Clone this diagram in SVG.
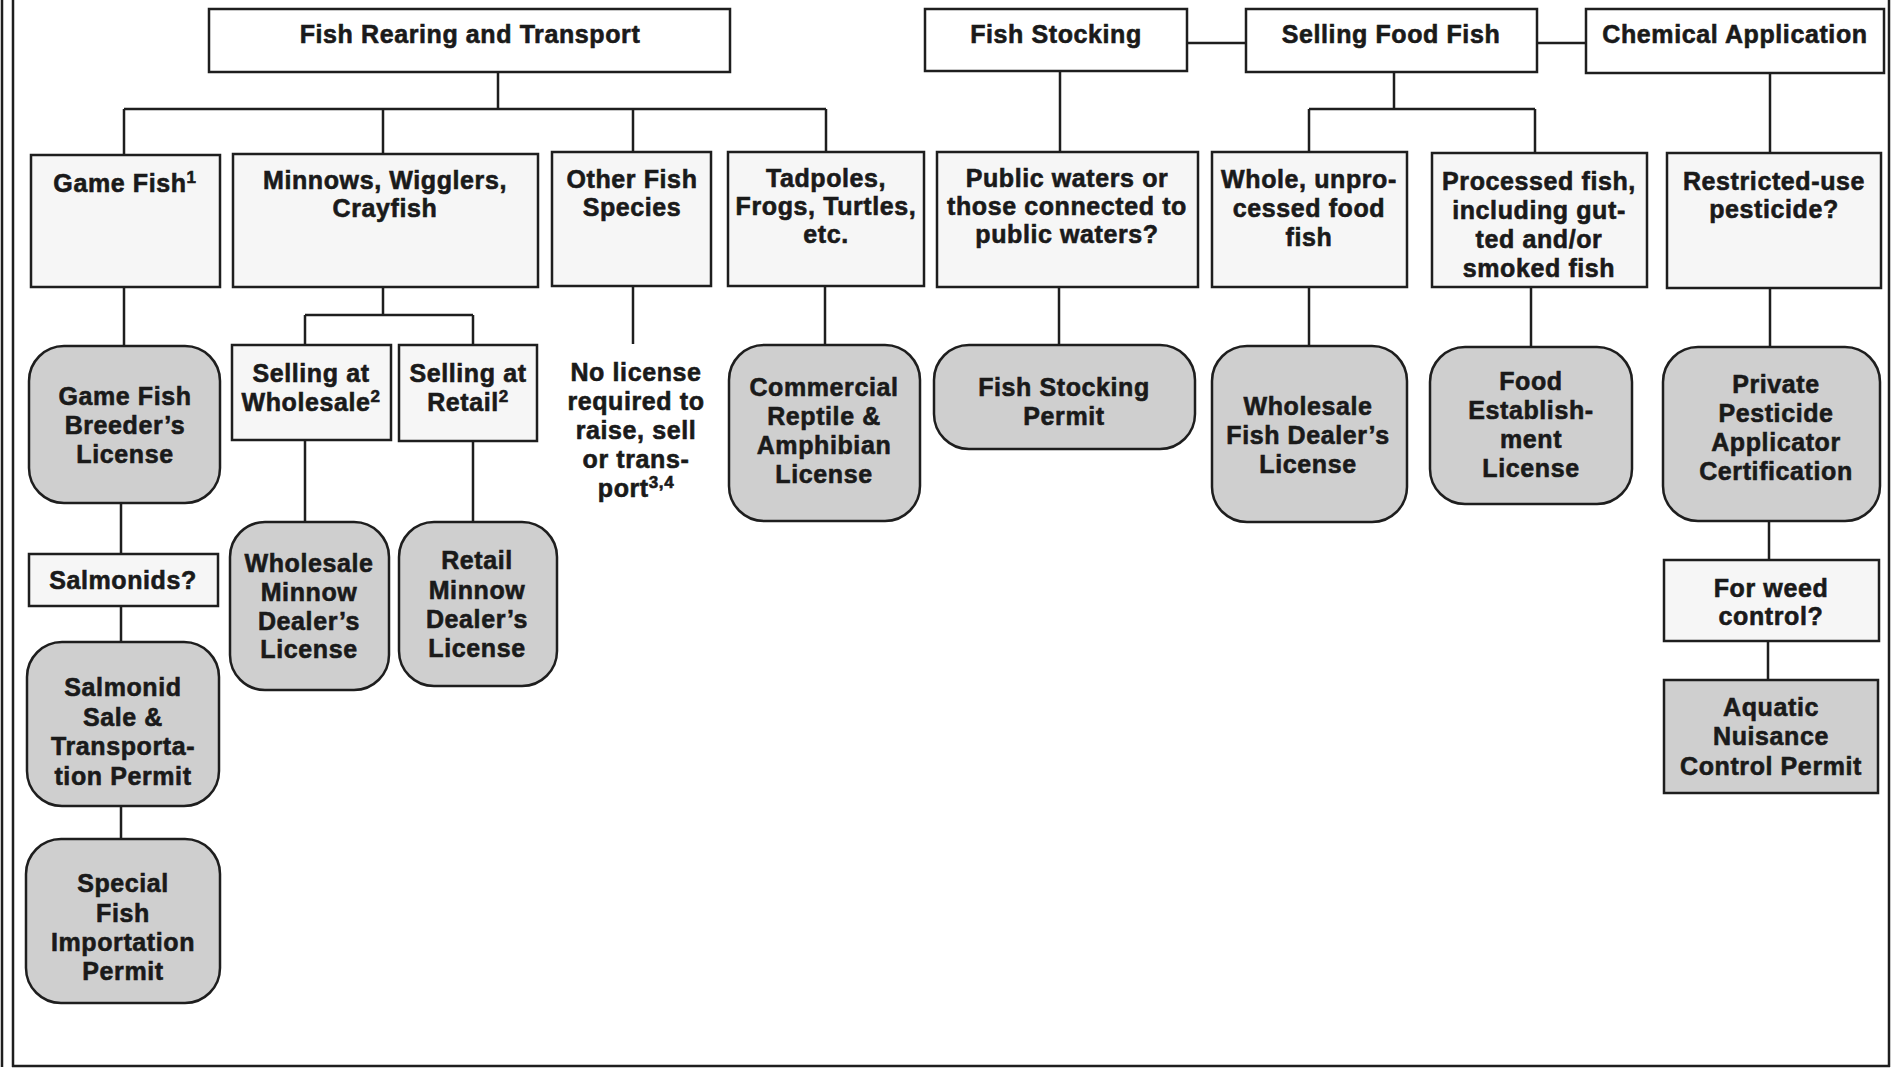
<svg xmlns="http://www.w3.org/2000/svg" width="1903" height="1069" viewBox="0 0 1903 1069">
<style>
  .hdr { fill: #ffffff; stroke: #1e1e1e; stroke-width: 2.5; }
  .q { fill: #f6f6f6; stroke: #1e1e1e; stroke-width: 2.5; }
  .lic { fill: #cfcfcf; stroke: #1e1e1e; stroke-width: 2.5; }
  .conn { fill: none; stroke: #1e1e1e; stroke-width: 2.5; }
  .frame { fill: none; stroke: #1e1e1e; stroke-width: 2.5; }
  text { font-family: "Liberation Sans", Arial, Helvetica, sans-serif; font-weight: bold; font-size: 25px; letter-spacing: 0.6px; fill: #1a1a1a; stroke: #1a1a1a; stroke-width: 0.6; text-anchor: middle; }
  .sup { font-size: 17px; }
</style>
<rect x="0" y="0" width="1903" height="1069" fill="#ffffff"/>
<g id="frame">
  <line class="frame" x1="2" y1="0" x2="2" y2="1067" stroke-width="1.2"/>
  <line class="frame" x1="13" y1="0" x2="13" y2="1067"/>
  <line class="frame" x1="1889" y1="0" x2="1889" y2="1067"/>
  <line class="frame" x1="12" y1="1066" x2="1890" y2="1066"/>
</g>
<g id="connectors">
  <path class="conn" d="M498 72 V109 M124 109 H826 M124 109 V155 M383 109 V154 M633 109 V152 M826 109 V152"/>
  <path class="conn" d="M1187 43 H1246 M1537 43 H1586"/>
  <path class="conn" d="M1060 71 V152"/>
  <path class="conn" d="M1394 72 V109 M1309 109 H1535 M1309 109 V152 M1535 109 V153"/>
  <path class="conn" d="M1770 73 V153"/>
  <path class="conn" d="M124 287 V346 M121 503 V554 M121 606 V642 M121 806 V839"/>
  <path class="conn" d="M383 287 V315 M305 315 H473 M305 315 V345 M473 315 V345 M305 440 V522 M473 441 V522"/>
  <path class="conn" d="M633 286 V344"/>
  <path class="conn" d="M825 286 V345"/>
  <path class="conn" d="M1059 287 V345"/>
  <path class="conn" d="M1309 287 V346"/>
  <path class="conn" d="M1531 287 V347"/>
  <path class="conn" d="M1770 288 V347 M1769 521 V560 M1768 641 V680"/>
</g>
<g id="hdr-rearing">
  <rect class="hdr" x="209" y="9" width="521" height="63"/>
  <text x="470" y="43">Fish Rearing and Transport</text>
</g>
<g id="hdr-stocking">
  <rect class="hdr" x="925" y="9" width="262" height="62"/>
  <text x="1056" y="43">Fish Stocking</text>
</g>
<g id="hdr-selling">
  <rect class="hdr" x="1246" y="9" width="291" height="63"/>
  <text x="1391" y="43">Selling Food Fish</text>
</g>
<g id="hdr-chemical">
  <rect class="hdr" x="1586" y="9" width="298" height="64"/>
  <text x="1735" y="43">Chemical Application</text>
</g>
<g id="game-fish">
  <rect class="q" x="31" y="155" width="189" height="132"/>
  <text x="125" y="192">Game Fish<tspan class="sup" dy="-9">1</tspan></text>
</g>
<g id="minnows">
  <rect class="q" x="233" y="154" width="305" height="133"/>
  <text x="385" y="189">Minnows, Wigglers,</text>
  <text x="385" y="217">Crayfish</text>
</g>
<g id="other-fish">
  <rect class="q" x="552" y="152" width="159" height="134"/>
  <text x="632" y="188">Other Fish</text>
  <text x="632" y="216">Species</text>
</g>
<g id="tadpoles">
  <rect class="q" x="728" y="152" width="196" height="134"/>
  <text x="826" y="187">Tadpoles,</text>
  <text x="826" y="215">Frogs, Turtles,</text>
  <text x="826" y="243">etc.</text>
</g>
<g id="public-waters">
  <rect class="q" x="937" y="152" width="261" height="135"/>
  <text x="1067" y="187">Public waters or</text>
  <text x="1067" y="215">those connected to</text>
  <text x="1067" y="243">public waters?</text>
</g>
<g id="whole-fish">
  <rect class="q" x="1212" y="152" width="195" height="135"/>
  <text x="1309" y="188">Whole, unpro-</text>
  <text x="1309" y="217">cessed food</text>
  <text x="1309" y="246">fish</text>
</g>
<g id="processed-fish">
  <rect class="q" x="1432" y="153" width="215" height="134"/>
  <text x="1539" y="190">Processed fish,</text>
  <text x="1539" y="219">including gut-</text>
  <text x="1539" y="248">ted and/or</text>
  <text x="1539" y="277">smoked fish</text>
</g>
<g id="restricted">
  <rect class="q" x="1667" y="153" width="214" height="135"/>
  <text x="1774" y="190">Restricted-use</text>
  <text x="1774" y="218">pesticide?</text>
</g>
<g id="breeder-license">
  <rect class="lic" x="29" y="346" width="191" height="157" rx="35" ry="35"/>
  <text x="125" y="405">Game Fish</text>
  <text x="125" y="434">Breeder’s</text>
  <text x="125" y="463">License</text>
</g>
<g id="salmonids">
  <rect class="q" x="29" y="554" width="189" height="52"/>
  <text x="123" y="589">Salmonids?</text>
</g>
<g id="salmonid-permit">
  <rect class="lic" x="27" y="642" width="192" height="164" rx="35" ry="35"/>
  <text x="123" y="696">Salmonid</text>
  <text x="123" y="726">Sale &amp;</text>
  <text x="123" y="755">Transporta-</text>
  <text x="123" y="785">tion Permit</text>
</g>
<g id="special-permit">
  <rect class="lic" x="26" y="839" width="194" height="164" rx="35" ry="35"/>
  <text x="123" y="892">Special</text>
  <text x="123" y="922">Fish</text>
  <text x="123" y="951">Importation</text>
  <text x="123" y="980">Permit</text>
</g>
<g id="sell-wholesale">
  <rect class="q" x="232" y="345" width="159" height="95"/>
  <text x="311" y="382">Selling at</text>
  <text x="311" y="411">Wholesale<tspan class="sup" dy="-9">2</tspan></text>
</g>
<g id="sell-retail">
  <rect class="q" x="399" y="345" width="138" height="96"/>
  <text x="468" y="382">Selling at</text>
  <text x="468" y="411">Retail<tspan class="sup" dy="-9">2</tspan></text>
</g>
<g id="wholesale-minnow">
  <rect class="lic" x="230" y="522" width="159" height="168" rx="35" ry="35"/>
  <text x="309" y="572">Wholesale</text>
  <text x="309" y="601">Minnow</text>
  <text x="309" y="630">Dealer’s</text>
  <text x="309" y="658">License</text>
</g>
<g id="retail-minnow">
  <rect class="lic" x="399" y="522" width="158" height="164" rx="35" ry="35"/>
  <text x="477" y="569">Retail</text>
  <text x="477" y="599">Minnow</text>
  <text x="477" y="628">Dealer’s</text>
  <text x="477" y="657">License</text>
</g>
<g id="no-license">
  <text x="636" y="381">No license</text>
  <text x="636" y="410">required to</text>
  <text x="636" y="439">raise, sell</text>
  <text x="636" y="468">or trans-</text>
  <text x="636" y="497">port<tspan class="sup" dy="-9">3,4</tspan></text>
</g>
<g id="reptile-license">
  <rect class="lic" x="729" y="345" width="191" height="176" rx="35" ry="35"/>
  <text x="824" y="396">Commercial</text>
  <text x="824" y="425">Reptile &amp;</text>
  <text x="824" y="454">Amphibian</text>
  <text x="824" y="483">License</text>
</g>
<g id="stocking-permit">
  <rect class="lic" x="934" y="345" width="261" height="104" rx="35" ry="35"/>
  <text x="1064" y="396">Fish Stocking</text>
  <text x="1064" y="425">Permit</text>
</g>
<g id="wholesale-fish-license">
  <rect class="lic" x="1212" y="346" width="195" height="176" rx="35" ry="35"/>
  <text x="1308" y="415">Wholesale</text>
  <text x="1308" y="444">Fish Dealer’s</text>
  <text x="1308" y="473">License</text>
</g>
<g id="food-license">
  <rect class="lic" x="1430" y="347" width="202" height="157" rx="35" ry="35"/>
  <text x="1531" y="390">Food</text>
  <text x="1531" y="419">Establish-</text>
  <text x="1531" y="448">ment</text>
  <text x="1531" y="477">License</text>
</g>
<g id="pesticide-cert">
  <rect class="lic" x="1663" y="347" width="217" height="174" rx="35" ry="35"/>
  <text x="1776" y="393">Private</text>
  <text x="1776" y="422">Pesticide</text>
  <text x="1776" y="451">Applicator</text>
  <text x="1776" y="480">Certification</text>
</g>
<g id="weed-control">
  <rect class="q" x="1664" y="560" width="215" height="81"/>
  <text x="1771" y="597">For weed</text>
  <text x="1771" y="625">control?</text>
</g>
<g id="aquatic-permit">
  <rect class="lic" x="1664" y="680" width="214" height="113"/>
  <text x="1771" y="716">Aquatic</text>
  <text x="1771" y="745">Nuisance</text>
  <text x="1771" y="775">Control Permit</text>
</g>
</svg>
